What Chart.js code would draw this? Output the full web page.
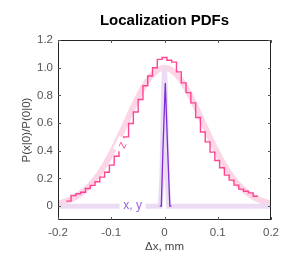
<!DOCTYPE html>
<html>
<head>
<meta charset="utf-8">
<script src="https://cdn.jsdelivr.net/npm/chart.js@4/dist/chart.umd.min.js"></script>
<style>
  html, body { margin: 0; padding: 0; background: #fff; }
  #wrap { width: 293px; height: 259px; }
</style>
</head>
<body>
<div id="wrap"><canvas id="pdfChart"></canvas></div>
<script>
// histogram of z (left bin edges + final right edge)
const histEdges = [
  -0.1845, -0.1755, -0.1665, -0.1575, -0.1485, -0.1395, -0.1305, -0.1215, -0.1125, -0.1035,
  -0.0945, -0.0855, -0.0765, -0.0675, -0.0585, -0.0495, -0.0405, -0.0315, -0.0225, -0.0135,
  -0.0045, 0.0045, 0.0135, 0.0225, 0.0315, 0.0405, 0.0495, 0.0585, 0.0675, 0.0765,
  0.0855, 0.0945, 0.1035, 0.1125, 0.1215, 0.1305, 0.1395, 0.1485, 0.1575, 0.1665, 0.1755
];
const histValues = [
  0.036, 0.077, 0.09, 0.10, 0.127, 0.15, 0.176, 0.21, 0.245, 0.296,
  0.36, 0.44, 0.50, 0.597, 0.68, 0.77, 0.87, 0.94, 1.00, 1.06,
  1.074, 1.054, 1.04, 0.97, 0.89, 0.82, 0.746, 0.64, 0.536, 0.464,
  0.39, 0.33, 0.277, 0.224, 0.188, 0.152, 0.123, 0.108, 0.096, 0.072
];

// smooth z curve
const zCurveX = [
  -0.20, -0.19, -0.18, -0.17, -0.16, -0.15, -0.14, -0.13, -0.12, -0.11, -0.10,
  -0.09, -0.08, -0.07, -0.06, -0.05, -0.04, -0.03, -0.02, -0.01, 0,
  0.01, 0.02, 0.03, 0.04, 0.05, 0.06, 0.07, 0.08, 0.09, 0.10,
  0.11, 0.12, 0.13, 0.14, 0.15, 0.16, 0.17, 0.18, 0.19, 0.20
];
const zCurveY = [
  0.020, 0.030, 0.043, 0.060, 0.084, 0.114, 0.151, 0.196, 0.249, 0.311, 0.381,
  0.458, 0.539, 0.623, 0.707, 0.786, 0.857, 0.917, 0.962, 0.990, 1.0,
  0.990, 0.962, 0.917, 0.857, 0.786, 0.707, 0.623, 0.539, 0.458, 0.381,
  0.311, 0.249, 0.196, 0.151, 0.114, 0.084, 0.060, 0.043, 0.030, 0.020
];

// x, y curve (wide light band) and measured peak (thin dark line)
const xyCurveX = [-0.20, -0.008, -0.005, -0.003, -0.0015, 0, 0.0015, 0.003, 0.005, 0.008, 0.20];
const xyCurveY = [0, 0, 0.2, 0.55, 0.85, 1.0, 0.85, 0.55, 0.2, 0, 0];
const xyPeakX = [-0.009, -0.006, -0.003, 0.0015, 0.006, 0.010, 0.013];
const xyPeakY = [0, 0, 0.4, 0.89, 0.4, 0, 0];

const xTicks = [-0.2, -0.1, 0, 0.1, 0.2];
const yTicks = [0, 0.2, 0.4, 0.6, 0.8, 1.0, 1.2];

const pts = (xs, ys) => xs.map((x, i) => ({ x: x, y: ys[i] }));
const histPts = histEdges.map((x, i) => ({ x: x, y: histValues[Math.min(i, histValues.length - 1)] }));

const FONT = '"Liberation Sans", Arial, sans-serif';

// box, inward ticks and curve labels
const boxPlugin = {
  id: 'boxPlugin',
  afterDatasetsDraw(chart) {
    const ctx = chart.ctx;
    const a = chart.chartArea;
    const xs = chart.scales.x, ys = chart.scales.y;

    ctx.save();
    ctx.font = '12px ' + FONT;
    ctx.textAlign = 'center';
    ctx.textBaseline = 'middle';

    // z label
    const zx = xs.getPixelForValue(-0.079), zy = ys.getPixelForValue(0.44);
    ctx.save();
    ctx.translate(zx, zy);
    ctx.rotate(-65 * Math.PI / 180);
    ctx.fillStyle = '#fff';
    ctx.fillRect(-7, -7, 14, 14);
    ctx.fillStyle = '#ff5aa5';
    ctx.fillText('z', 0, 0);
    ctx.restore();

    // x, y label
    const lx = xs.getPixelForValue(-0.06), ly = ys.getPixelForValue(0);
    ctx.fillStyle = '#fff';
    ctx.fillRect(lx - 13, ly - 7, 26, 14);
    ctx.fillStyle = '#9b5fe0';
    ctx.fillText('x, y', lx, ly);

    // box
    ctx.strokeStyle = '#222';
    ctx.lineWidth = 1;
    ctx.strokeRect(a.left + 0.5, a.top + 0.5, a.right - a.left - 1, a.bottom - a.top - 1);

    // inward ticks
    ctx.strokeStyle = '#555';
    ctx.beginPath();
    xTicks.forEach(v => {
      const px = Math.round(xs.getPixelForValue(v)) + 0.5;
      ctx.moveTo(px, a.bottom); ctx.lineTo(px, a.bottom - 3);
      ctx.moveTo(px, a.top); ctx.lineTo(px, a.top + 3);
    });
    yTicks.forEach(v => {
      const py = Math.round(ys.getPixelForValue(v)) + 0.5;
      ctx.moveTo(a.left, py); ctx.lineTo(a.left + 3, py);
      ctx.moveTo(a.right, py); ctx.lineTo(a.right - 3, py);
    });
    ctx.stroke();
    ctx.restore();
  }
};

new Chart(document.getElementById('pdfChart'), {
  type: 'line',
  data: {
    datasets: [
      {
        label: 'x, y measured',
        data: pts(xyPeakX, xyPeakY),
        borderColor: '#7b2fd4',
        borderWidth: 1.3,
        pointRadius: 0,
        order: 1
      },
      {
        label: 'z histogram',
        data: histPts,
        borderColor: '#ff4592',
        borderWidth: 1.4,
        pointRadius: 0,
        stepped: true,
        order: 2
      },
      {
        label: 'x, y',
        data: pts(xyCurveX, xyCurveY),
        borderColor: '#ebdcf4',
        borderWidth: 5,
        pointRadius: 0,
        order: 3
      },
      {
        label: 'z',
        data: pts(zCurveX, zCurveY),
        borderColor: '#fcd6e6',
        borderWidth: 6,
        pointRadius: 0,
        cubicInterpolationMode: 'monotone',
        order: 4
      }
    ]
  },
  options: {
    responsive: true,
    maintainAspectRatio: false,
    animation: false,
    layout: { padding: { left: 0, right: 22, top: 0, bottom: 0 } },
    plugins: {
      legend: { display: false },
      tooltip: { enabled: false },
      title: {
        display: true,
        fullSize: false,
        text: 'Localization PDFs',
        color: '#000',
        font: { family: FONT, size: 15, weight: 'bold' },
        padding: { top: 12, bottom: 10 }
      }
    },
    scales: {
      x: {
        type: 'linear',
        min: -0.2,
        max: 0.2,
        afterBuildTicks: s => { s.ticks = xTicks.map(v => ({ value: v })); },
        afterFit: s => { s.height = 39; },
        grid: { display: false, drawTicks: false },
        border: { display: false },
        ticks: {
          color: '#555',
          padding: 6,
          maxRotation: 0,
          font: { family: FONT, size: 11.5 },
          callback: v => v === 0 ? '0' : String(v)
        },
        title: {
          display: true,
          text: 'Δx, mm',
          color: '#444',
          padding: { top: 0, bottom: 5 },
          font: { family: FONT, size: 11.5 }
        }
      },
      y: {
        min: -0.1,
        max: 1.2,
        afterBuildTicks: s => { s.ticks = yTicks.map(v => ({ value: v })); },
        afterFit: s => { s.width = 58; },
        grid: { display: false, drawTicks: false },
        border: { display: false },
        ticks: {
          color: '#555',
          padding: 5,
          font: { family: FONT, size: 11.5 },
          callback: v => v === 0 ? '0' : Number(v).toFixed(1)
        },
        title: {
          display: true,
          text: 'P(x|0)/P(0|0)',
          color: '#444',
          padding: { top: 20, bottom: 0 },
          font: { family: FONT, size: 11.5 }
        }
      }
    }
  },
  plugins: [boxPlugin]
});
</script>
</body>
</html>
